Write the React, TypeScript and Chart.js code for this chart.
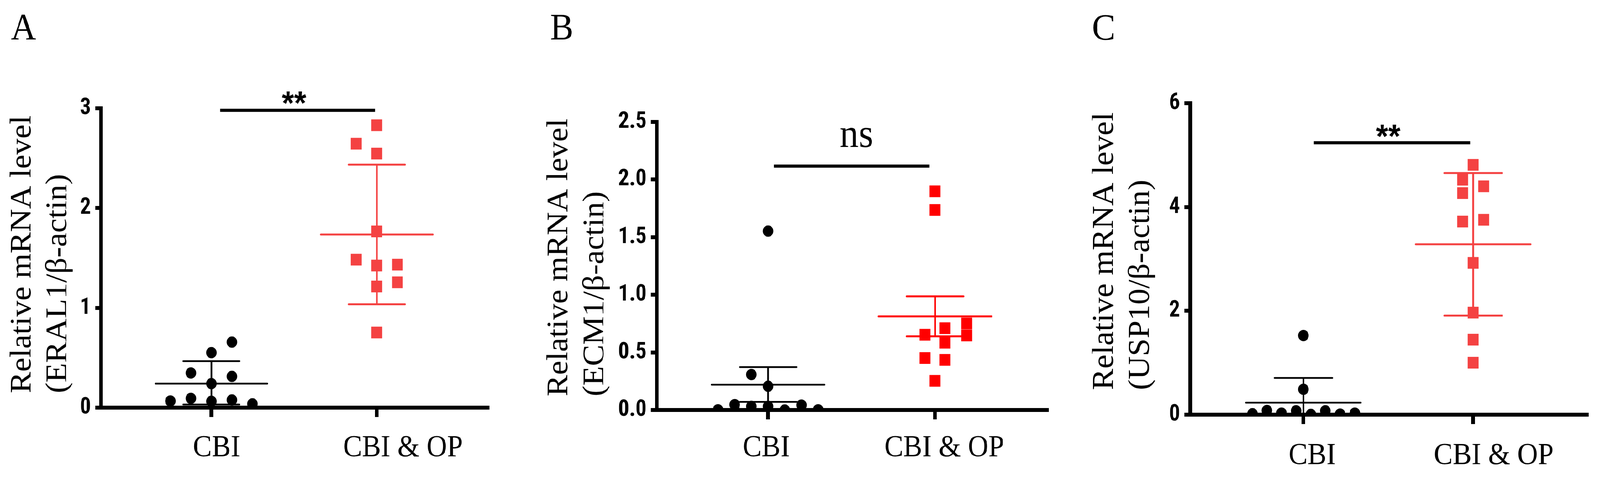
import React, { useEffect, useRef, useState } from 'react';
import { Chart, registerables } from 'chart.js';

Chart.register(...registerables);

// ---------------- data ----------------
const categories = ['CBI', 'CBI & OP'];
const yTitleLine1 = 'Relative mRNA level';

// Panel A – ERAL1
const eral1CbiX = [1.124, 1.0, 0.876, 1.124, 1.0, 0.752, 0.876, 1.0, 1.124, 1.248];
const eral1CbiY = [0.657, 0.551, 0.348, 0.313, 0.241, 0.067, 0.093, 0.064, 0.077, 0.038];
const eral1OpX = [2.0, 1.876, 2.0, 2.0, 1.876, 2.0, 2.124, 2.124, 2.0, 2.0];
const eral1OpY = [2.83, 2.645, 2.546, 1.766, 1.483, 1.424, 1.433, 1.256, 1.214, 0.753];
const eral1Mean = [0.241, 1.735];
const eral1Low = [0.031, 1.036];
const eral1High = [0.466, 2.435];
const eral1YTicks = [0, 1, 2, 3];
const eral1YTickLabels = ['0', '1', '2', '3'];
const eral1SigX = [1.053, 1.989];
const eral1SigY = 2.979;
const eral1SigText = '**';
const eral1SigLabelPos = [1.5, 3.03];

// Panel B – ECM1
const ecm1CbiX = [1.0, 0.9, 1.0, 0.8, 0.9, 1.0, 1.2, 0.7, 1.1, 1.3];
const ecm1CbiY = [1.553, 0.308, 0.206, 0.047, 0.031, 0.031, 0.042, 0.002, 0.0, 0.002];
const ecm1OpX = [2.0, 2.0, 1.94, 2.06, 2.06, 2.19, 2.19, 1.94, 2.06, 2.0];
const ecm1OpY = [1.898, 1.736, 0.653, 0.71, 0.584, 0.751, 0.647, 0.451, 0.435, 0.253];
const ecm1Mean = [0.22, 0.812];
const ecm1Low = [0.07, 0.639];
const ecm1High = [0.372, 0.986];
const ecm1YTicks = [0, 0.5, 1, 1.5, 2, 2.5];
const ecm1YTickLabels = ['0.0', '0.5', '1.0', '1.5', '2.0', '2.5'];
const ecm1SigX = [1.035, 1.967];
const ecm1SigY = 2.117;
const ecm1SigText = 'ns';
const ecm1SigLabelPos = [1.53, 2.376];

// Panel C – USP10
const usp10CbiX = [1.0, 1.0, 0.7, 0.785, 0.871, 0.957, 1.044, 1.129, 1.216, 1.303];
const usp10CbiY = [1.524, 0.49, 0.019, 0.081, 0.031, 0.076, 0.006, 0.076, 0.011, 0.031];
const usp10OpX = [2.0, 1.938, 2.062, 1.938, 1.938, 2.062, 2.0, 2.0, 2.0, 2.0];
const usp10OpY = [4.812, 4.526, 4.399, 4.268, 3.72, 3.754, 2.924, 1.966, 1.445, 1.001];
const usp10Mean = [0.232, 3.283];
const usp10Low = [-0.24, 1.909];
const usp10High = [0.708, 4.654];
const usp10YTicks = [0, 2, 4, 6];
const usp10YTickLabels = ['0', '2', '4', '6'];
const usp10SigX = [1.062, 1.982];
const usp10SigY = 5.237;
const usp10SigText = '**';
const usp10SigLabelPos = [1.5, 5.32];

// ---------------- styling / layout ----------------
const W = 4400;
const H = 1223;
const X_MIN = 0.333;
const X_MAX = 2.67;
const MEAN_HALF = 0.338;
const CAP_HALF = 0.17;
const FONT_SERIF = "'Liberation Serif', 'Times New Roman', serif";
const FONT_TICK = "'Liberation Sans Narrow', 'Arial Narrow', 'Roboto Condensed', 'DejaVu Sans Condensed', 'Liberation Sans', sans-serif";
const FONT_SANS = "'Liberation Sans', Arial, sans-serif";

type Panel = {
  left: number; width: number; yAxisW: number; padTop: number; padRight: number; bottom: number;
  yMax: number; yTicks: number[]; yTickLabels: string[];
  cbiX: number[]; cbiY: number[]; opX: number[]; opY: number[];
  mean: number[]; low: number[]; high: number[];
  red: string;
  sigX: number[]; sigY: number; sigText: string; sigLabel: number[]; sigFont: string;
  labelPos: number[]; labelPad: number;
  letter: string; letterX: number; letterY: number;
  title2: string; titleX: number[]; titleStartY: number;
};

const panels: Panel[] = [
  {
    left: 0, width: 1450, yAxisW: 278, padTop: 277, padRight: 109, bottom: 1043,
    yMax: 3, yTicks: eral1YTicks, yTickLabels: eral1YTickLabels,
    cbiX: eral1CbiX, cbiY: eral1CbiY, opX: eral1OpX, opY: eral1OpY,
    mean: eral1Mean, low: eral1Low, high: eral1High, red: '#F44242',
    sigX: eral1SigX, sigY: eral1SigY, sigText: eral1SigText, sigLabel: eral1SigLabelPos,
    sigFont: `bold 86px ${FONT_SANS}`,
    labelPos: [1.031, 2.158], labelPad: 33,
    letter: 'A', letterX: 30, letterY: 101,
    title2: '(ERAL1/β-actin)', titleX: [62, 160], titleStartY: 1006,
  },
  {
    left: 1450, width: 1470, yAxisW: 356, padTop: 312, padRight: 41, bottom: 1049,
    yMax: 2.5, yTicks: ecm1YTicks, yTickLabels: ecm1YTickLabels,
    cbiX: ecm1CbiX, cbiY: ecm1CbiY, opX: ecm1OpX, opY: ecm1OpY,
    mean: ecm1Mean, low: ecm1Low, high: ecm1High, red: '#FF0000',
    sigX: ecm1SigX, sigY: ecm1SigY, sigText: ecm1SigText, sigLabel: ecm1SigLabelPos,
    sigFont: `104px ${FONT_SERIF}`,
    labelPos: [0.989, 2.055], labelPad: 27,
    letter: 'B', letterX: 63, letterY: 101,
    title2: '(ECM1/β-actin)', titleX: [88, 187], titleStartY: 1014,
  },
  {
    left: 2920, width: 1480, yAxisW: 353, padTop: 264, padRight: 36, bottom: 1061,
    yMax: 6, yTicks: usp10YTicks, yTickLabels: usp10YTickLabels,
    cbiX: usp10CbiX, cbiY: usp10CbiY, opX: usp10OpX, opY: usp10OpY,
    mean: usp10Mean, low: usp10Low, high: usp10High, red: '#F44242',
    sigX: usp10SigX, sigY: usp10SigY, sigText: usp10SigText, sigLabel: usp10SigLabelPos,
    sigFont: `bold 86px ${FONT_SANS}`,
    labelPos: [1.052, 2.121], labelPad: 35,
    letter: 'C', letterX: 83, letterY: 102,
    title2: '(USP10/β-actin)', titleX: [118, 217], titleStartY: 998,
  },
];

function errorData(p: Panel, g: number) {
  const cx = g + 1;
  const m = p.mean[g];
  const lo = p.low[g];
  const hi = p.high[g];
  return [
    { x: cx - MEAN_HALF, y: m }, { x: cx + MEAN_HALF, y: m }, { x: cx, y: null },
    { x: cx, y: lo }, { x: cx, y: hi }, { x: cx, y: null },
    { x: cx - CAP_HALF, y: hi }, { x: cx + CAP_HALF, y: hi }, { x: cx, y: null },
    { x: cx - CAP_HALF, y: lo }, { x: cx + CAP_HALF, y: lo },
  ];
}

function buildConfig(p: Panel): any {
  const lineSet = (data: any[], color: string, width: number, cap: string, clip?: boolean) => ({
    type: 'scatter',
    data,
    showLine: true,
    spanGaps: false,
    borderColor: color,
    borderWidth: width,
    borderCapStyle: cap,
    pointRadius: 0,
    fill: false,
    ...(clip === false ? { clip: false } : {}),
  });

  const textPlugin = {
    id: 'panelText',
    afterDraw(chart: any) {
      const ctx = chart.ctx;
      const xs = chart.scales.x;
      const ys = chart.scales.y;
      ctx.save();
      ctx.fillStyle = '#000';
      ctx.font = `96px ${FONT_SERIF}`;
      ctx.textAlign = 'left';
      ctx.textBaseline = 'alphabetic';
      ctx.fillText(p.letter, p.letterX, p.letterY);
      ctx.font = `82px ${FONT_SERIF}`;
      [yTitleLine1, p.title2].forEach((line, i) => {
        ctx.save();
        ctx.translate(p.titleX[i], p.titleStartY);
        ctx.rotate(-Math.PI / 2);
        ctx.textAlign = 'left';
        ctx.textBaseline = 'middle';
        ctx.fillText(line, 0, 0);
        ctx.restore();
      });
      ctx.font = p.sigFont;
      ctx.textAlign = 'center';
      ctx.textBaseline = 'middle';
      ctx.fillText(p.sigText, xs.getPixelForValue(p.sigLabel[0]), ys.getPixelForValue(p.sigLabel[1]));
      ctx.restore();
    },
  };

  return {
    type: 'scatter',
    data: {
      datasets: [
        {
          data: p.cbiX.map((x, i) => ({ x, y: p.cbiY[i] })),
          pointStyle: 'circle', pointRadius: 14.5, backgroundColor: '#000', borderWidth: 0,
        },
        {
          data: p.opX.map((x, i) => ({ x, y: p.opY[i] })),
          pointStyle: 'rect', pointRadius: 21.2, backgroundColor: p.red, borderWidth: 0,
        },
        lineSet(errorData(p, 0), '#000', 4.5, 'round'),
        lineSet(errorData(p, 1), p.red, 5, 'round'),
        lineSet([{ x: p.sigX[0], y: p.sigY }, { x: p.sigX[1], y: p.sigY }], '#000', 8, 'butt', false),
      ],
    },
    options: {
      animation: false,
      responsive: false,
      maintainAspectRatio: false,
      events: [],
      layout: { padding: { top: p.padTop, right: p.padRight, left: 0, bottom: 0 } },
      plugins: { legend: { display: false }, tooltip: { enabled: false }, title: { display: false } },
      scales: {
        x: {
          type: 'linear', position: 'bottom', weight: 0, min: X_MIN, max: X_MAX,
          afterBuildTicks: (s: any) => { s.ticks = [{ value: 1 }, { value: 2 }]; },
          afterFit: (s: any) => { s.height = 24; },
          ticks: { display: false },
          grid: { display: true, drawOnChartArea: false, drawTicks: true, tickLength: 24, lineWidth: 10, color: '#000' },
          border: { display: true, width: 10, color: '#000' },
        },
        xl: {
          type: 'linear', position: 'bottom', weight: 1, min: X_MIN, max: X_MAX,
          afterBuildTicks: (s: any) => { s.ticks = p.labelPos.map((v) => ({ value: v })); },
          afterFit: (s: any) => { s.height = H - p.bottom - 24; },
          ticks: {
            callback: (_v: any, i: number) => categories[i],
            font: { family: FONT_SERIF, size: 78 }, color: '#000', padding: p.labelPad,
            maxRotation: 0, minRotation: 0, autoSkip: false,
          },
          grid: { display: false, drawTicks: false },
          border: { display: false },
        },
        y: {
          type: 'linear', min: 0, max: p.yMax,
          afterBuildTicks: (s: any) => { s.ticks = p.yTicks.map((v) => ({ value: v })); },
          afterFit: (s: any) => { s.width = p.yAxisW; },
          ticks: {
            callback: (v: any) => p.yTickLabels[p.yTicks.indexOf(v)],
            font: { family: FONT_TICK, size: 60, weight: 'bold' }, color: '#000', padding: 12,
          },
          grid: { display: true, drawOnChartArea: false, drawTicks: true, tickLength: 16, lineWidth: 10, color: '#000' },
          border: { display: true, width: 10, color: '#000' },
        },
      },
    },
    plugins: [textPlugin],
  };
}

function PanelChart({ p }: { p: Panel }) {
  const ref = useRef<HTMLCanvasElement>(null);
  useEffect(() => {
    const chart = new Chart(ref.current as HTMLCanvasElement, buildConfig(p));
    return () => chart.destroy();
  }, [p]);
  return (
    <canvas
      ref={ref}
      width={p.width}
      height={H}
      style={{ position: 'absolute', left: p.left, top: 0, width: p.width, height: H }}
    />
  );
}

function viewportScale() {
  if (typeof window === 'undefined') return { sx: 1, sy: 1 };
  const vw = document.documentElement.clientWidth || window.innerWidth || W;
  const vh = window.innerHeight || H;
  return { sx: Math.min(1, vw / W), sy: Math.min(1, vh / H) };
}

export default function App() {
  const [sc, setSc] = useState(viewportScale);
  useEffect(() => {
    document.body.style.margin = '0';
    document.body.style.overflow = 'hidden';
    setSc(viewportScale());
  }, []);
  return (
    <div
      style={{
        position: 'absolute', left: 0, top: 0, width: W, height: H, background: '#fff', overflow: 'hidden',
        transform: `scale(${sc.sx}, ${sc.sy})`, transformOrigin: '0 0',
      }}
    >
      {panels.map((p, i) => (
        <PanelChart key={i} p={p} />
      ))}
    </div>
  );
}
